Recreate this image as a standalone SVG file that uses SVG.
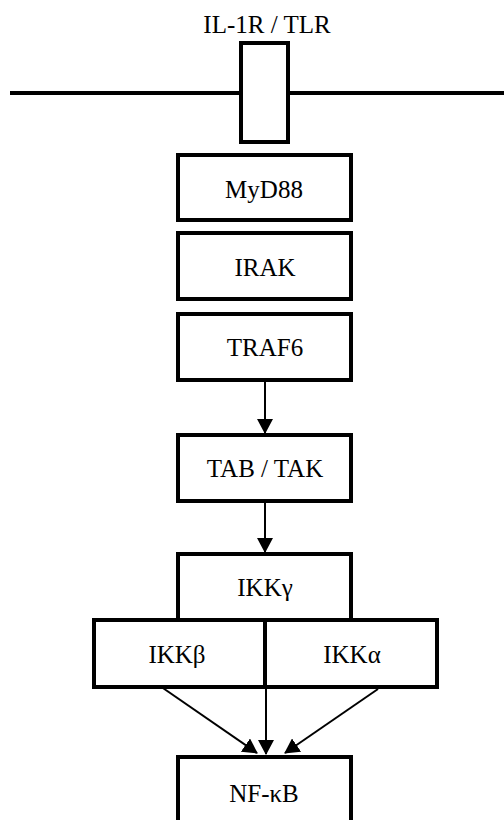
<svg xmlns="http://www.w3.org/2000/svg" width="504" height="820" viewBox="0 0 504 820">
  <style>
    .box { fill: #ffffff; stroke: #000000; stroke-width: 4; }
    .lbl { font-family: "Liberation Serif", "Times New Roman", serif; font-size: 25px; fill: #000000; text-anchor: middle; }
    .edge { stroke: #000000; stroke-width: 2; fill: none; marker-end: url(#arrow); }
    .membrane { stroke: #000000; stroke-width: 4; }
  </style>
  <defs>
    <marker id="arrow" markerUnits="userSpaceOnUse" markerWidth="15" markerHeight="16" refX="14" refY="8" orient="auto">
      <path d="M0,0 L15,8 L0,16 Z" fill="#000000"/>
    </marker>
  </defs>
  <rect width="504" height="820" fill="#ffffff"/>

  <!-- cell membrane with receptor -->
  <line class="membrane" x1="10" y1="93" x2="504" y2="93"/>
  <g id="receptor">
    <rect class="box" x="241" y="43" width="47" height="99"/>
    <text class="lbl" x="267" y="33">IL-1R / TLR</text>
  </g>

  <g id="myd88">
    <rect class="box" x="178" y="155" width="173" height="65"/>
    <text class="lbl" x="264" y="198">MyD88</text>
  </g>
  <g id="irak">
    <rect class="box" x="178" y="233" width="173" height="66"/>
    <text class="lbl" x="265" y="276">IRAK</text>
  </g>
  <g id="traf6">
    <rect class="box" x="178" y="314" width="173" height="66"/>
    <text class="lbl" x="265" y="356">TRAF6</text>
  </g>
  <g id="tab-tak">
    <rect class="box" x="178" y="435" width="173" height="66"/>
    <text class="lbl" x="265" y="477">TAB / TAK</text>
  </g>
  <g id="ikk-gamma">
    <rect class="box" x="178" y="554" width="173" height="66"/>
    <text class="lbl" x="265" y="596">IKKγ</text>
  </g>
  <g id="ikk-beta">
    <rect class="box" x="94" y="620" width="171" height="67"/>
    <text class="lbl" x="177" y="663">IKKβ</text>
  </g>
  <g id="ikk-alpha">
    <rect class="box" x="265" y="620" width="172" height="67"/>
    <text class="lbl" x="352" y="663">IKKα</text>
  </g>
  <g id="nf-kb">
    <rect class="box" x="178" y="757" width="173" height="80"/>
    <text class="lbl" x="264" y="802">NF-κB</text>
  </g>

  <g id="connectors">
    <line class="edge" x1="265" y1="382" x2="265" y2="433"/>
    <line class="edge" x1="265" y1="503" x2="265" y2="552"/>
    <line class="edge" x1="160" y1="686" x2="257" y2="753"/>
    <line class="edge" x1="266" y1="689" x2="266" y2="754"/>
    <line class="edge" x1="378" y1="689" x2="285" y2="753"/>
  </g>
</svg>
